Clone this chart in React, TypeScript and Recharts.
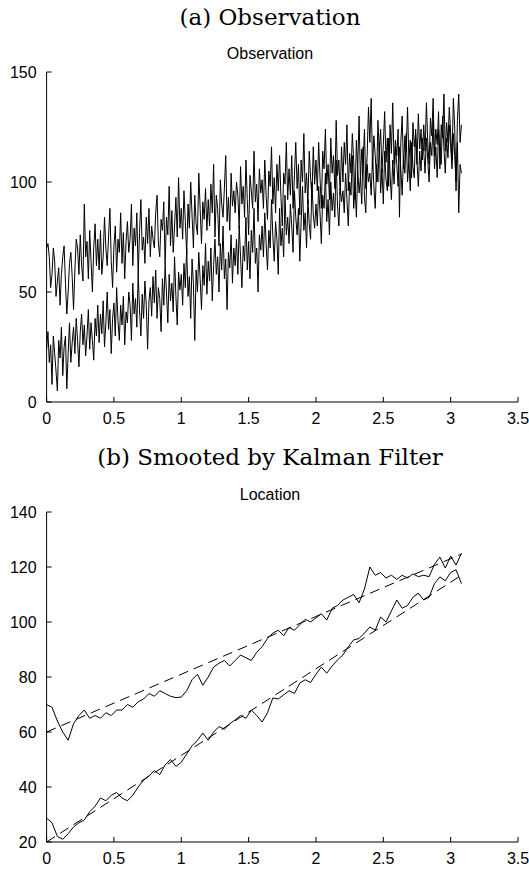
import React from 'react'
import { LineChart, Line, XAxis, YAxis } from 'recharts'

// observations every 0.01 s, smoothed track kept every 0.04 s
const DT = 0.01
const SMOOTH_EVERY = 4

const obsUpper = [
  70, 72, 66, 52, 58, 70, 64, 48, 55, 61, 44, 58, 66, 71, 54, 40, 50, 63, 68, 57,
  42, 60, 74, 70, 58, 76, 62, 55, 90, 66, 73, 56, 78, 64, 50, 70, 81, 62, 74, 60,
  78, 58, 66, 84, 70, 62, 75, 88, 64, 52, 71, 80, 59, 74, 68, 86, 63, 77, 56, 73,
  82, 68, 74, 90, 62, 79, 71, 86, 58, 77, 92, 69, 75, 63, 84, 72, 88, 66, 80, 74,
  70, 86, 94, 72, 66, 83, 78, 91, 62, 84, 76, 98, 71, 87, 68, 80, 93, 75, 102, 79,
  88, 74, 96, 82, 67, 90, 79, 100, 85, 70, 94, 81, 76, 104, 88, 72, 91, 83, 97, 78,
  92, 80, 99, 86, 108, 75, 94, 88, 71, 101, 90, 84, 97, 112, 82, 93, 78, 104, 89, 96,
  86, 100, 94, 79, 107, 90, 98, 84, 110, 92, 76, 103, 96, 88, 114, 91, 99, 82, 106, 95,
  101, 88, 110, 94, 83, 105, 98, 116, 90, 102, 86, 108, 96, 112, 93, 80, 104, 99, 118, 92,
  106, 94, 112, 88, 103, 118, 97, 108, 85, 110, 100, 122, 95, 104, 90, 114, 102, 93, 116, 99,
  110, 96, 118, 102, 88, 114, 106, 124, 99, 108, 92, 120, 104, 112, 97, 128, 103, 110, 94, 116,
  100, 118, 108, 126, 96, 113, 104, 122, 110, 92, 119, 106, 130, 101, 115, 108, 124, 97, 112, 134,
  118, 138, 106, 121, 112, 100, 128, 114, 124, 104, 117, 132, 109, 120, 98, 126, 113, 136, 108, 119,
  112, 124, 84, 118, 130, 106, 121, 114, 134, 110, 119, 102, 127, 116, 122, 108, 131, 115, 124, 110,
  126, 114, 136, 118, 108, 129, 121, 138, 112, 124, 117, 132, 106, 126, 120, 140, 114, 127, 118, 134,
  122, 110, 138, 125, 96, 128, 140, 118, 126
]

const obsLower = [
  24, 32, 18, 26, 8, 30, 22, 14, 5, 28, 20, 34, 12, 25, 30, 6, 22, 36, 18, 27,
  34, 22, 38, 28, 16, 32, 40, 26, 35, 21, 30, 42, 24, 36, 28, 19, 38, 30, 44, 27,
  40, 31, 46, 25, 36, 50, 33, 42, 22, 38, 45, 30, 52, 37, 28, 44, 35, 48, 26, 41,
  36, 50, 44, 28, 54, 40, 47, 34, 58, 42, 30, 49, 38, 55, 44, 24, 46, 52, 39, 57,
  45, 60, 38, 52, 47, 32, 56, 44, 62, 50, 36, 58, 46, 54, 41, 66, 48, 35, 59, 51,
  58, 44, 63, 52, 70, 48, 57, 38, 65, 54, 28, 60, 50, 68, 56, 42, 62, 53, 72, 49,
  64, 55, 70, 46, 62, 74, 58, 66, 50, 72, 60, 80, 56, 65, 42, 68, 61, 76, 54, 70,
  62, 74, 58, 80, 66, 52, 71, 64, 84, 60, 73, 56, 78, 68, 88, 63, 70, 50, 76, 69,
  80, 66, 86, 72, 60, 78, 70, 92, 75, 64, 82, 74, 58, 88, 71, 79, 66, 94, 76, 84,
  72, 90, 80, 68, 96, 84, 76, 88, 64, 82, 98, 78, 86, 70, 92, 81, 74, 100, 85, 79,
  90, 80, 98, 86, 72, 94, 88, 104, 82, 92, 76, 100, 87, 95, 84, 110, 89, 80, 97, 91,
  96, 86, 104, 92, 80, 100, 94, 112, 88, 98, 84, 106, 95, 102, 90, 116, 93, 86, 108, 100,
  104, 94, 112, 98, 88, 108, 100, 118, 95, 106, 90, 114, 101, 96, 120, 104, 92, 110, 99, 116,
  108, 98, 116, 106, 94, 112, 104, 122, 100, 110, 96, 118, 107, 102, 124, 109, 98, 114, 105, 120,
  114, 104, 120, 110, 100, 118, 112, 128, 106, 116, 102, 124, 113, 108, 130, 115, 104, 120, 111, 126,
  116, 106, 122, 112, 100, 118, 86, 108, 104
]

// Kalman-smoothed locations
const smoothUpper = [
  70, 69, 64, 60, 57, 63, 66, 68, 65, 66,
  65, 67, 66, 68, 68, 70, 69, 71, 72, 74,
  73, 75, 74, 73, 72.5, 72.7, 75, 79, 81, 77,
  80, 83.6, 85, 86, 84, 86, 88, 87, 86, 89,
  91, 94, 96, 97, 95, 98, 97, 99, 101, 100,
  101.5, 103, 100.7, 105, 106, 108, 109, 110, 107, 112,
  120, 117, 118, 116, 117, 115.5, 117, 116, 117.5, 116.5,
  117, 116.5, 121, 123.6, 119.6, 124, 120.7, 125
]

const smoothLower = [
  28.7, 27, 22, 21, 23, 25.5, 27, 28, 31, 33,
  36, 35, 37, 38, 36, 35, 37, 40, 42.5, 44,
  46, 44.5, 48, 50, 47.5, 49, 52, 55, 57, 59.6,
  57, 60, 62, 61, 63, 64.4, 66, 65, 68, 66,
  63.6, 67, 72.4, 72, 73.5, 75, 74, 77.8, 79, 78,
  81, 83.6, 81.4, 84, 86.2, 88, 91, 93.5, 94, 96,
  98.2, 97, 101.8, 100, 104, 108, 105, 106, 109, 110.5,
  108, 109, 114, 116.4, 115, 118, 119, 114
]

// true trajectories (dashed): value at start and at end
const trueUpper = [60, 124.7]
const trueLower = [20, 117]

const xTicks = [0, 0.5, 1, 1.5, 2, 2.5, 3, 3.5]
const obsTicks = [0, 50, 100, 150]
const locTicks = [20, 40, 60, 80, 100, 120, 140]

const obsData = obsUpper.map((u, i) => ({
  t: Math.round(i * DT * 100) / 100,
  u,
  l: obsLower[i]
}))

const last = obsUpper.length - 1
const locData = obsUpper.map((_, i) => {
  const k = i % SMOOTH_EVERY === 0 ? i / SMOOTH_EVERY : -1
  return {
    t: Math.round(i * DT * 100) / 100,
    su: k >= 0 ? smoothUpper[k] ?? null : null,
    sl: k >= 0 ? smoothLower[k] ?? null : null,
    tu: i === 0 ? trueUpper[0] : i === last ? trueUpper[1] : null,
    tl: i === 0 ? trueLower[0] : i === last ? trueLower[1] : null
  }
})

const tickFont = { fontFamily: 'Liberation Sans, Arial, sans-serif', fontSize: 16, fill: '#000' }
const blank = () => ''

// box with inward ticks on all four sides, labels only bottom/left
function axes(yTicks: number[], yDomain: [number, number]) {
  return [
    <XAxis
      key="xb"
      xAxisId="b"
      dataKey="t"
      type="number"
      domain={[0, 3.5]}
      ticks={xTicks}
      height={20}
      tickSize={-5}
      tickMargin={16}
      tick={tickFont}
      stroke="#000"
      interval={0}
    />,
    <XAxis
      key="xt"
      xAxisId="t"
      dataKey="t"
      type="number"
      orientation="top"
      domain={[0, 3.5]}
      ticks={xTicks}
      height={0}
      tickSize={-5}
      tickFormatter={blank}
      stroke="#000"
      interval={0}
    />,
    <YAxis
      key="yl"
      yAxisId="l"
      type="number"
      domain={yDomain}
      ticks={yTicks}
      width={46.6}
      tickSize={-5}
      tickMargin={15}
      tick={tickFont}
      stroke="#000"
      interval={0}
    />,
    <YAxis
      key="yr"
      yAxisId="r"
      type="number"
      orientation="right"
      domain={yDomain}
      ticks={yTicks}
      width={0}
      tickSize={-5}
      tickFormatter={blank}
      stroke="#000"
      interval={0}
    />
  ]
}

const titleStyle: React.CSSProperties = {
  position: 'absolute',
  left: 10,
  width: 520,
  textAlign: 'center',
  fontFamily: 'DejaVu Serif, serif',
  fontSize: 23,
  lineHeight: '23px',
  color: '#000'
}

const subStyle: React.CSSProperties = {
  position: 'absolute',
  left: 10,
  width: 520,
  textAlign: 'center',
  fontFamily: 'Liberation Sans, Arial, sans-serif',
  fontSize: 16,
  lineHeight: '16px',
  color: '#000'
}

export default function App() {
  const lineProps = {
    xAxisId: 'b',
    yAxisId: 'l',
    type: 'linear' as const,
    stroke: '#000',
    strokeWidth: 1,
    dot: false,
    activeDot: false,
    connectNulls: true,
    isAnimationActive: false
  }

  return (
    <div style={{ position: 'absolute', left: 0, top: 0, width: 529, height: 870, background: '#fff', overflow: 'hidden' }}>
      <div style={{ ...titleStyle, top: 6 }}>(a) Observation</div>
      <div style={{ ...subStyle, top: 46 }}>Observation</div>
      <div style={{ position: 'absolute', left: 0, top: 0 }}>
        <LineChart width={529} height={440} data={obsData} margin={{ top: 72, right: 11, bottom: 18, left: 0 }}>
          {axes(obsTicks, [0, 150])}
          <Line {...lineProps} dataKey="u" />
          <Line {...lineProps} dataKey="l" />
        </LineChart>
      </div>

      <div style={{ ...titleStyle, top: 446 }}>(b) Smooted by Kalman Filter</div>
      <div style={{ ...subStyle, top: 487 }}>Location</div>
      <div style={{ position: 'absolute', left: 0, top: 440 }}>
        <LineChart width={529} height={430} data={locData} margin={{ top: 72, right: 11, bottom: 8, left: 0 }}>
          {axes(locTicks, [20, 140])}
          <Line {...lineProps} dataKey="tu" strokeDasharray="10 6" />
          <Line {...lineProps} dataKey="tl" strokeDasharray="10 6" />
          <Line {...lineProps} dataKey="su" />
          <Line {...lineProps} dataKey="sl" />
        </LineChart>
      </div>
    </div>
  )
}
